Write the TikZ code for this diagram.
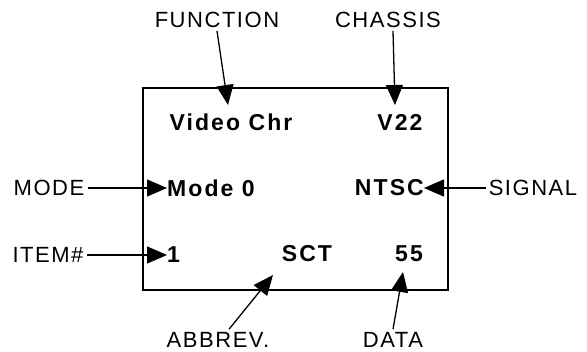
\documentclass[tikz,border=0pt]{standalone}
\usepackage{fontspec}
\setmainfont{Liberation Sans}
\usepackage{tikz}
\usetikzlibrary{arrows.meta,positioning}
\newfontfamily\lblfont[LetterSpace=7]{Liberation Sans}
\newfontfamily\valfont[LetterSpace=9]{Liberation Sans Bold}

\begin{document}
\begin{tikzpicture}[x=1pt,y=1pt,
  lbl/.style={font=\fontsize{22}{22}\selectfont\lblfont, inner sep=3pt},
  val/.style={font=\fontsize{23}{23}\selectfont\valfont, inner sep=3pt},
  ptr/.style={-{Triangle[length=20pt,width=17pt]}, line width=1.3pt}]
\useasboundingbox (0,0) rectangle (587,352);
% display frame
\draw[line width=2pt] (143,264) rectangle (448,62);
% values inside the frame
\node[val] (videochr) at (231,230) {Video Chr};
\node[val] (v22) at (400,230) {V22};
\node[val, anchor=west, inner sep=0pt] (mode0) at (167,164) {Mode 0};
\node[val, anchor=east, inner sep=0pt] (ntsc) at (424,164) {NTSC};
\node[val, anchor=west, inner sep=0pt] (item1) at (167,97) {1};
\node[val] (sct) at (307,98) {SCT};
\node[val] (d55) at (409,98) {55};
% field names
\node[lbl] (function) at (217,332) {FUNCTION};
\node[lbl] (chassis) at (388,332) {CHASSIS};
\node[lbl] (mode) at (49,164) {MODE};
\node[lbl] (signal) at (533,164) {SIGNAL};
\node[lbl] (item) at (48,97) {ITEM\#};
\node[lbl] (abbrev) at (218,12) {ABBREV.};
\node[lbl] (data) at (393,12) {DATA};
% tips that stop short of the values
\coordinate (functip) at (228,247);
\coordinate (chastip) at (395,247);
\coordinate (abbrtip) at (273,77);
\coordinate (datatip) at (403,80);
\draw[ptr] (function.south) -- (functip);
\draw[ptr] ([xshift=5pt]chassis.south) -- (chastip);
\draw[ptr] (mode.east) -- (mode0.west);
\draw[ptr] (signal.west) -- (ntsc.east);
\draw[ptr] (item.east) -- (item1.west);
\draw[ptr] ([xshift=11pt]abbrev.north) -- (abbrtip);
\draw[ptr] (data.north) -- (datatip);
\end{tikzpicture}
\end{document}
